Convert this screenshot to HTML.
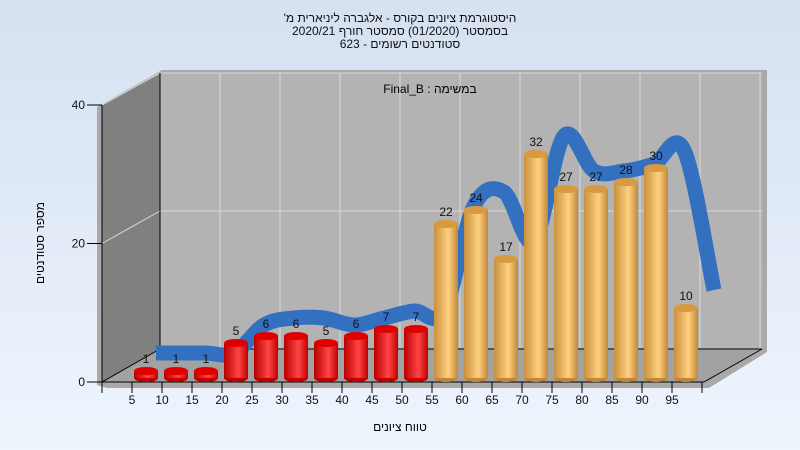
<!DOCTYPE html>
<html><head><meta charset="utf-8"><style>
body{margin:0;width:800px;height:450px;overflow:hidden;font-family:"Liberation Sans",sans-serif}
svg{display:block}
</style></head><body>
<svg width="800" height="450" id="chart">
<defs>
<linearGradient id="bg" x1="0" y1="0" x2="0" y2="1"><stop offset="0" stop-color="#d5e1f1"/><stop offset="1" stop-color="#eef5fd"/></linearGradient>
<linearGradient id="red" x1="0" y1="0" x2="1" y2="0"><stop offset="0" stop-color="#b80000"/><stop offset="0.6" stop-color="#ff4545"/><stop offset="1" stop-color="#c00000"/></linearGradient>
<linearGradient id="org" x1="0" y1="0" x2="1" y2="0"><stop offset="0" stop-color="#c8903c"/><stop offset="0.6" stop-color="#ffd080"/><stop offset="1" stop-color="#c08838"/></linearGradient>
</defs>
<rect width="800" height="450" fill="url(#bg)"/>
<g font-family="'Liberation Sans','DejaVu Sans',sans-serif" font-size="12" fill="#111" text-anchor="middle">
<text x="400" y="22" direction="rtl">היסטוגרמת ציונים בקורס - אלגברה ליניארית מ'</text>
<text x="400" y="35" direction="rtl">בסמסטר  (01/2020)  סמסטר חורף 2020/21</text>
<text x="400" y="48" direction="rtl">סטודנטים רשומים - 623</text>
</g>
<polygon points="107,388 709,388 767,352 767,70 162,70 157,73 97,107 97,385" fill="#a9a9a9"/>
<polygon points="160,73 762,73 762,349 160,349" fill="#b3b3b3"/>
<polygon points="102,105 160,73 160,349 102,382" fill="#808080"/>
<polygon points="102,382 160,349 762,349 704,382" fill="#a2a2a2"/>
<g id="grid" stroke="#d8d8d8" stroke-width="1"></g>
<g stroke="#000" stroke-width="1" fill="none">
<polyline points="160,73 160,349 762,349"/>
<line x1="160" y1="349" x2="102" y2="382"/>
<line x1="102" y1="105" x2="102" y2="382"/>
<line x1="102" y1="382" x2="704" y2="382"/>
<line x1="704" y1="382" x2="762" y2="349"/>
</g>
<text x="430" y="93" font-size="12" text-anchor="middle" direction="rtl">במשימה : Final_B</text>
<path id="ribbon" fill="none" stroke="#3470c0" stroke-width="15" stroke-linejoin="round"/>
<g id="bars"></g>
<g id="ticks" font-size="12" fill="#111"></g>
<text x="400" y="431" font-size="12" text-anchor="middle" direction="rtl">טווח ציונים</text>
<text transform="translate(44,243) rotate(-90)" font-size="12" text-anchor="middle" direction="rtl">מספר סטודנטים</text>
</svg>
<script>
const categories=[5,10,15,20,25,30,35,40,45,50,55,60,65,70,75,80,85,90,95];
const counts=[1,1,1,5,6,6,5,6,7,7,22,24,17,32,27,27,28,30,10];
const trend=[1,1,1,5,6,6,5,6,7,7,22,24,17,32,27,27,28,30,10];
const yTicks=[0,20,40];
const NS="http://www.w3.org/2000/svg";
function mk(t,a,p){const e=document.createElementNS(NS,t);for(const k in a)e.setAttribute(k,a[k]);p.appendChild(e);return e;}
const yFront=v=>382-v*6.925, yBack=v=>349-v*6.9;
const xTick=i=>102+30*(i+1);
const barX=i=>146+30*i, barY=v=>378-v*7.0;
const grid=document.getElementById('grid');
yTicks.forEach(v=>{if(v===0)return;
 const l=mk('line',{x1:102,y1:yFront(v),x2:160,y2:yBack(v)},grid);
 const b=mk('line',{x1:160,y1:yBack(v),x2:762,y2:yBack(v)},grid);});
for(let x=220;x<762;x+=60){const l=mk('line',{x1:x,y1:73,x2:x,y2:349},grid);}
// ribbon
const pts=trend.map((v,i)=>[barX(i)+(i===0?10:28),360-v*7]);
let d="M"+pts[0][0]+","+pts[0][1];
for(let i=0;i<pts.length-1;i++){const p0=pts[Math.max(0,i-1)],p1=pts[i],p2=pts[i+1],p3=pts[Math.min(pts.length-1,i+2)];
 d+=" C"+(p1[0]+(p2[0]-p0[0])/6)+","+(p1[1]+(p2[1]-p0[1])/6)+" "+(p2[0]-(p3[0]-p1[0])/6)+","+(p2[1]-(p3[1]-p1[1])/6)+" "+p2[0]+","+p2[1];}
document.getElementById('ribbon').setAttribute('d',d);
// bars
const bars=document.getElementById('bars');
counts.forEach((v,i)=>{const g=mk('g',{},bars);
 
 
 const red=categories[i]<=50,cx=barX(i),w=24,top=barY(v),bot=378;
 const fill=red?'url(#red)':'url(#org)',cap=red?'#e00000':'#d89a40';
 mk('ellipse',{cx:cx,cy:bot,rx:w/2,ry:4,fill:red?'#c00000':'#c08838'},g);
 mk('rect',{x:cx-w/2,y:top,width:w,height:bot-top,fill:fill},g);
 mk('ellipse',{cx:cx,cy:top,rx:w/2,ry:4,fill:cap},g);
 const t=mk('text',{x:cx,y:top-8,'font-size':12,'text-anchor':'middle',fill:'#111'},g);t.textContent=v;
 
 });
// ticks
const tk=document.getElementById('ticks');
for(let i=0;i<=20;i++){if(i>19)break;const l=mk('line',{x1:102+30*i,y1:382,x2:102+30*i,y2:393,stroke:'#000'},tk);}
mk('line',{x1:702,y1:382,x2:702,y2:393,stroke:'#000'},tk);
categories.forEach((c,i)=>{const t=mk('text',{x:xTick(i),y:404,'text-anchor':'middle'},tk);t.textContent=c;
 
 });
yTicks.forEach(v=>{const l=mk('line',{x1:87,y1:yFront(v),x2:102,y2:yFront(v),stroke:'#000'},tk);
 const t=mk('text',{x:85,y:yFront(v)+4,'text-anchor':'end'},tk);t.textContent=v;
 
 });
</script>
</body></html>
